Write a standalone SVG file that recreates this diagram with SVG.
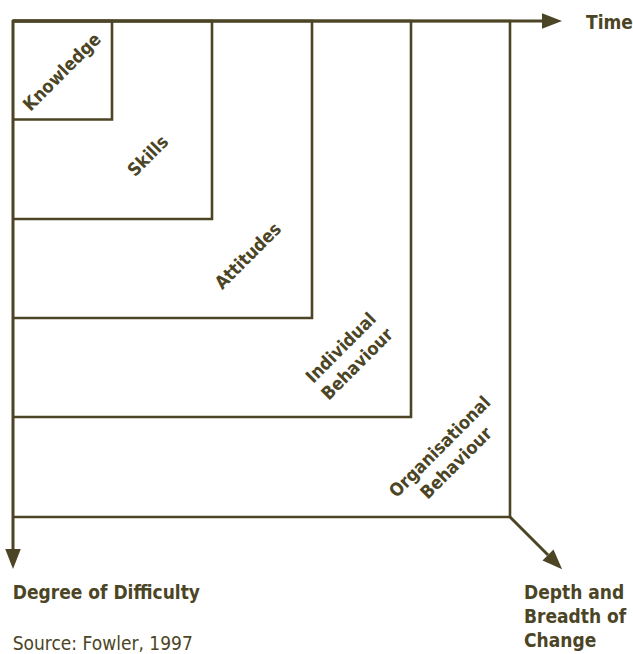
<svg xmlns="http://www.w3.org/2000/svg" width="633" height="654" viewBox="0 0 633 654">
<style>
.ln{fill:none;stroke:#4b4525;stroke-width:3}
.box{fill:none;stroke:#4b4525;stroke-width:2.6}
text{font-family:'DejaVu Sans Condensed','DejaVu Sans',sans-serif;font-stretch:condensed;fill:#4b4525}
.lb{font-size:18px;font-weight:bold;text-anchor:middle}
.ax{font-size:19px;font-weight:bold}
.src{font-size:19px}
</style>
<defs>
<marker id="ah" markerUnits="userSpaceOnUse" markerWidth="20" markerHeight="16" refX="0" refY="7" orient="auto" viewBox="0 0 18 14">
<path d="M0,0 L18,7 L0,14 Z" fill="#4b4525"/>
</marker>
</defs>
<g id="organisational">
<path class="box" d="M13,21 H510 V517 H13"/>
<text class="lb" transform="translate(448,455) rotate(-45)"><tspan x="0" y="-5.5">Organisational</tspan><tspan x="0" y="17.5">Behaviour</tspan></text>
</g>
<g id="individual">
<path class="box" d="M13,21 H411 V417 H13"/>
<text class="lb" transform="translate(349,356) rotate(-45)"><tspan x="0" y="-5.5">Individual</tspan><tspan x="0" y="17.5">Behaviour</tspan></text>
</g>
<g id="attitudes">
<path class="box" d="M13,21 H312 V318 H13"/>
<text class="lb" transform="translate(248,256) rotate(-45)" y="6">Attitudes</text>
</g>
<g id="skills">
<path class="box" d="M13,21 H212 V219 H13"/>
<text class="lb" transform="translate(148,156) rotate(-45)" y="6">Skills</text>
</g>
<g id="knowledge">
<path class="box" d="M13,21 H112 V119.5 H13"/>
<text class="lb" transform="translate(62,72) rotate(-45)" y="6">Knowledge</text>
</g>
<g id="connectors">
<line class="ln" x1="12" y1="21" x2="542" y2="21" marker-end="url(#ah)"/>
<line class="ln" x1="13" y1="20" x2="13" y2="549" marker-end="url(#ah)"/>
<line class="ln" x1="510" y1="517" x2="548" y2="555" marker-end="url(#ah)"/>
</g>
<g id="axis-labels">
<text class="ax" x="586" y="29">Time</text>
<text class="ax" x="12.7" y="599">Degree of Difficulty</text>
<text class="src" x="12.7" y="650">Source: Fowler, 1997</text>
<text class="ax" x="524" y="599">Depth and</text>
<text class="ax" x="524" y="623">Breadth of</text>
<text class="ax" x="524" y="647">Change</text>
</g>
</svg>
